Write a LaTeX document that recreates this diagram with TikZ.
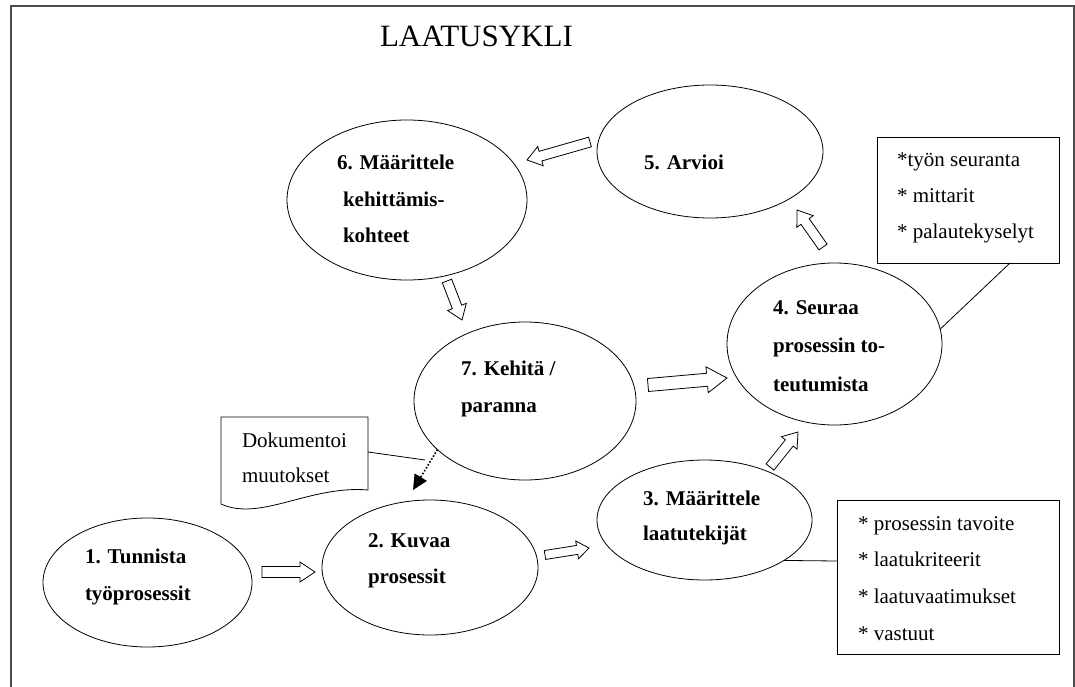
\documentclass[tikz,border=0pt]{standalone}
\usepackage{fontspec}
\setmainfont{Liberation Serif}
\usetikzlibrary{shapes.geometric,calc,arrows.meta}

% stacked text lines, aligned on the first baseline
\newcommand\textstack[3]{{\fontsize{#1}{#2}\selectfont\begin{tabular}[t]{@{}l@{}}#3\end{tabular}}}

% hollow block arrow: tail, tip, half shaft width, half head width, head length
\newcommand\blockarrow[5]{%
  \coordinate (ba-h) at ($(#2)!#5!(#1)$);
  \draw[blk] ($(#1)!#3!90:(#2)$) -- ($(ba-h)!#3!90:(#2)$) -- ($(ba-h)!#4!90:(#2)$)
    -- (#2) -- ($(ba-h)!#4!-90:(#2)$) -- ($(ba-h)!#3!-90:(#2)$)
    -- ($(#1)!#3!-90:(#2)$) -- cycle;}

\tikzset{
  bubble/.style={ellipse, draw, line width=0.8pt, inner sep=0pt, outer sep=0pt},
  note/.style={draw, line width=0.8pt, inner sep=0pt, outer sep=0pt, anchor=north west},
  frame/.style={draw=black!70, line width=1.5pt},
  txt/.style={anchor=base west, inner sep=0pt, outer sep=0pt},
  blk/.style={draw, line width=0.8pt, fill=white, line join=miter},
  link/.style={line width=0.8pt},
}

\begin{document}
\begin{tikzpicture}[x=1pt, y=-1pt]
\useasboundingbox (0,0) rectangle (1075,687);
\fill[white] (0,0) rectangle (1075,687);

% page frame, open at the bottom
\draw[frame] (11,700) -- (11,6) -- (1074,6) -- (1074,700);

% title
\node[txt] (title) at (380,47) {\fontsize{31}{36}\selectfont LAATUSYKLI};

% cycle steps
\node[bubble, minimum width=209pt, minimum height=129pt] (e1) at (147.5,582.5) {};
\node[bubble, minimum width=216pt, minimum height=135pt] (e2) at (430,567.5) {};
\node[bubble, minimum width=215pt, minimum height=120pt] (e3) at (704.5,520) {};
\node[bubble, minimum width=215pt, minimum height=162pt] (e4) at (834.5,344) {};
\node[bubble, minimum width=226pt, minimum height=133pt] (e5) at (710,151.5) {};
\node[bubble, minimum width=240pt, minimum height=160pt] (e6) at (407,200) {};
\node[bubble, minimum width=222pt, minimum height=158pt] (e7) at (525,401) {};

\node[txt] (t1) at (85,563) {\textstack{21}{37}{\bfseries 1. Tunnista\\\bfseries työprosessit}};
\node[txt] (t2) at (368,547) {\textstack{21}{36}{\bfseries 2. Kuvaa\\\bfseries prosessit}};
\node[txt] (t3) at (643,505) {\textstack{21}{35}{\bfseries 3. Määrittele\\\bfseries laatutekijät}};
\node[txt] (t4) at (773,314) {\textstack{21}{38.5}{\bfseries 4. Seuraa\\\bfseries prosessin to-\\\bfseries teutumista}};
\node[txt] (t5) at (644,170) {\textstack{21}{37}{\bfseries 5. Arvioi}};
\node[txt] (t6) at (337,170) {\textstack{21}{36.5}{\bfseries 6. Määrittele\\\bfseries\hspace{6pt}kehittämis-\\\bfseries\hspace{6pt}kohteet}};
\node[txt] (t7) at (461,375) {\textstack{21}{37}{\bfseries 7. Kehitä /\\\bfseries paranna}};

% side notes
\node[note, minimum width=182pt, minimum height=126pt] (b4) at (877,137) {};
\node[txt] (tb4) at (897,167) {\textstack{21}{35.5}{*työn seuranta\\{}* mittarit\\{}* palautekyselyt}};
\node[note, minimum width=222pt, minimum height=154pt] (b3) at (837,500) {};
\node[txt] (tb3) at (858,530) {\textstack{21}{36.7}{* prosessin tavoite\\{}* laatukriteerit\\{}* laatuvaatimukset\\{}* vastuut}};

% document note
\draw[link] (221,504) -- (221,417) -- (368,417) -- (368,490)
  .. controls (310,485) and (260,522) .. (221,504);
\coordinate (doc) at (368,452);
\node[txt] (tdoc) at (242,447) {\textstack{21}{35}{Dokumentoi\\muutokset}};

% note leaders
\draw[link] (b3.west |- 0,561) -- (e3.-27.6);
\draw[link] (b4.south west) ++(133,0) coordinate (b4l) -- (e4.8);
\coordinate (dmid) at (425,460);
\draw[link] (doc) -- (dmid);

% dotted arrow from step 7 towards step 2
\coordinate (dtip) at (413,490);
\draw[line width=1.6pt, dash pattern=on 1.6pt off 1.8pt, -{Triangle[length=15pt,width=14pt]}] (e7.209) -- (dtip);

% block arrows between the steps
\coordinate (a12t) at (262,572); \coordinate (a12h) at (315,572);
\coordinate (a23t) at (545,555); \coordinate (a23h) at (589,548);
\coordinate (a34t) at (770,467); \coordinate (a34h) at (798,432);
\coordinate (a74t) at (648,385); \coordinate (a74h) at (727,378);
\coordinate (a45t) at (823,247); \coordinate (a45h) at (797,210);
\coordinate (a56t) at (590,142); \coordinate (a56h) at (527,160);
\coordinate (a67t) at (447,281); \coordinate (a67h) at (462,320);
\blockarrow{a12t}{a12h}{5.5pt}{10pt}{15pt}
\blockarrow{a23t}{a23h}{4.5pt}{9pt}{12pt}
\blockarrow{a34t}{a34h}{5pt}{10pt}{14pt}
\blockarrow{a74t}{a74h}{6.5pt}{13pt}{20pt}
\blockarrow{a45t}{a45h}{5pt}{10pt}{14pt}
\blockarrow{a56t}{a56h}{5pt}{10pt}{14pt}
\blockarrow{a67t}{a67h}{5pt}{10pt}{14pt}
\end{tikzpicture}
\end{document}
